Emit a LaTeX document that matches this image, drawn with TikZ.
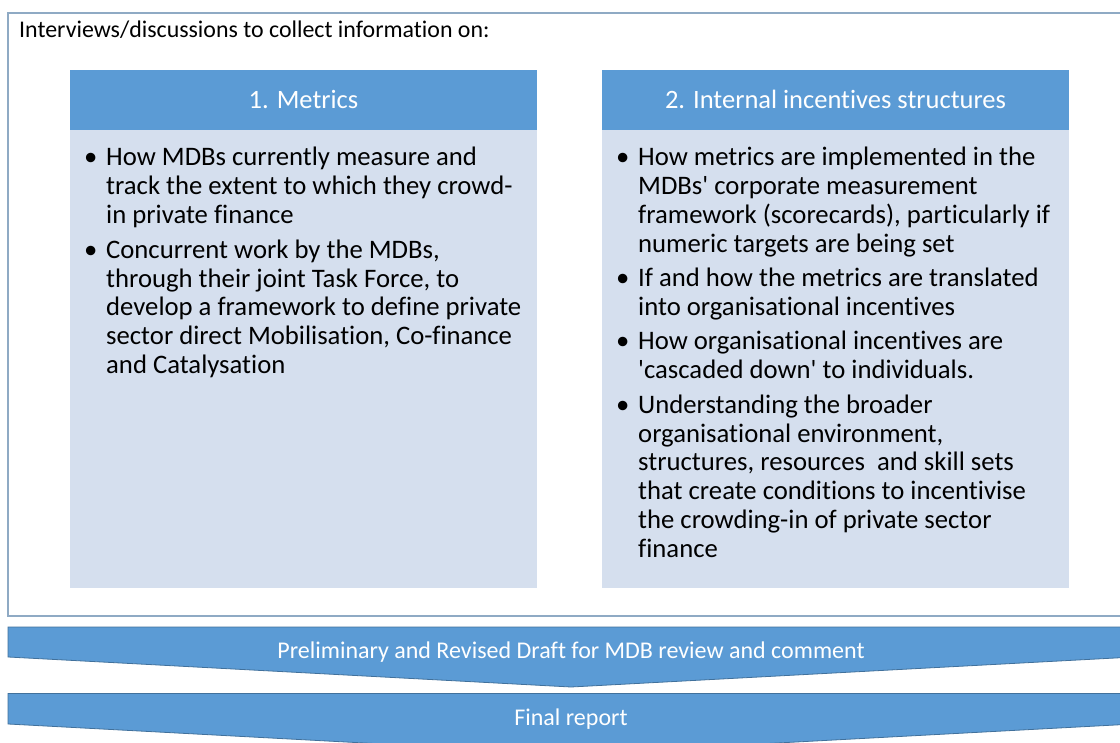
\documentclass[tikz,border=0pt]{standalone}
\usepackage{fontspec}
\setmainfont{Carlito}[Ligatures={TeX,NoCommon}]
\definecolor{hdr}{HTML}{5B9BD5}
\definecolor{bodyc}{HTML}{D5DFEE}
\definecolor{framec}{HTML}{8FAAC4}
\definecolor{chevedge}{HTML}{41719C}
\tikzset{
  hdrtext/.style={anchor=base, text=white, inner sep=0pt, font=\fontsize{26.5}{30}\selectfont},
  bodytext/.style={anchor=base west, inner sep=0pt, font=\fontsize{26.7}{28.9}\selectfont},
  chevtext/.style={anchor=base, text=white, inner sep=0pt, font=\fontsize{24}{28}\selectfont},
  chev/.style={fill=hdr, draw=chevedge, line width=0.8pt, line join=miter},
}
\newcommand{\bitem}{\makebox[22pt][l]{\textbullet}}
\begin{document}
\begin{tikzpicture}[x=1pt,y=-1pt]
\clip (0,0) rectangle (1120,743);
\fill[white] (0,0) rectangle (1120,743);
% outer frame
\draw[framec, line width=1.5pt] (8,13) rectangle (1140,616);
\node[anchor=base west, inner sep=0pt, font=\fontsize{23.9}{28}\selectfont] (intro) at (19,38) {Interviews/discussions to collect information on:};
% left column
\fill[hdr] (70,70) rectangle (537,130);
\fill[bodyc] (70,130) rectangle (537,588);
\node[hdrtext] (h1) at (303.5,108.5) {1. Metrics};
\node[bodytext] (l1) at (84,165.5) {\begin{tabular}[t]{@{}l@{}l@{}}
\bitem & How MDBs currently measure and\\
 & track the extent to which they crowd-\\
 & in private finance\\[6pt]
\bitem & Concurrent work by the MDBs,\\
 & through their joint Task Force, to\\
 & develop a framework to define private\\
 & sector direct Mobilisation, Co-finance\\
 & and Catalysation
\end{tabular}};
% right column
\fill[hdr] (602,70) rectangle (1069,130);
\fill[bodyc] (602,130) rectangle (1069,588);
\node[hdrtext] (h2) at (835.5,108.5) {2. Internal incentives structures};
\node[bodytext] (r1) at (616,165.5) {\begin{tabular}[t]{@{}l@{}l@{}}
\bitem & How metrics are implemented in the\\
 & MDBs\textquotesingle{} corporate measurement\\
 & framework (scorecards), particularly if\\
 & numeric targets are being set\\[5.5pt]
\bitem & If and how the metrics are translated\\
 & into organisational incentives\\[5.5pt]
\bitem & How organisational incentives are\\
 & \textquotesingle cascaded down\textquotesingle{} to individuals.\\[5.5pt]
\bitem & Understanding the broader\\
 & organisational environment,\\
 & structures, resources\ \ and skill sets\\
 & that create conditions to incentivise\\
 & the crowding-in of private sector\\
 & finance
\end{tabular}};
% chevrons
\draw[chev] (8,627) -- (1134,627) -- (1134,657) -- (571,687) -- (8,657) -- cycle;
\node[chevtext] (c1) at (571,658) {Preliminary and Revised Draft for MDB review and comment};
\draw[chev] (8,693.5) -- (1134,693.5) -- (1134,724) -- (571,754) -- (8,724) -- cycle;
\node[chevtext] (c2) at (571,725) {Final report};
\end{tikzpicture}
\end{document}
